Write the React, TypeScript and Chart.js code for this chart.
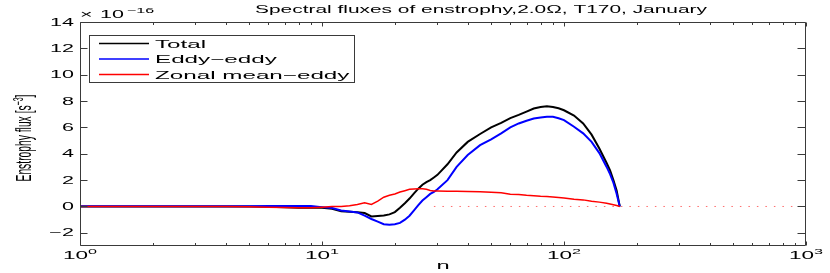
import React, { useEffect, useRef } from "react";
import { Chart, registerables } from "chart.js";

Chart.register(...registerables);

const nValues = [1, 2, 3, 4, 5, 6, 7, 8, 9, 10, 11, 12, 13, 14, 15, 16, 17, 18, 19, 20, 21, 22, 23, 24, 25, 26, 27, 28, 29, 30, 33, 36, 40, 45, 50, 55, 60, 65, 70, 75, 80, 85, 90, 95, 100, 110, 120, 130, 140, 150, 155, 160, 165, 170];
const totalFlux = [0, 0, 0, 0, 0, -0.02, -0.05, -0.1, -0.1, -0.1, -0.17, -0.36, -0.4, -0.43, -0.5, -0.76, -0.72, -0.68, -0.6, -0.43, -0.1, 0.25, 0.6, 1.0, 1.35, 1.65, 1.85, 2.0, 2.2, 2.4, 3.2, 4.1, 4.9, 5.5, 6.0, 6.35, 6.7, 6.95, 7.2, 7.43, 7.55, 7.6, 7.55, 7.45, 7.3, 6.9, 6.3, 5.45, 4.4, 3.3, 2.74, 2.0, 1.22, 0];
const eddyEddyFlux = [0.02, 0.02, 0.02, 0.02, 0.02, 0.03, 0.03, 0.03, 0.03, -0.05, -0.12, -0.3, -0.38, -0.45, -0.7, -0.95, -1.15, -1.35, -1.38, -1.35, -1.25, -1.0, -0.7, -0.3, 0.1, 0.45, 0.7, 0.95, 1.1, 1.3, 2.0, 3.0, 3.9, 4.65, 5.1, 5.55, 6.0, 6.3, 6.5, 6.67, 6.75, 6.8, 6.8, 6.7, 6.55, 6.05, 5.55, 4.9, 4.05, 3.0, 2.45, 1.8, 0.97, 0];
const zonalMeanEddyFlux = [0, 0, 0, 0, -0.02, -0.05, -0.08, -0.1, -0.1, -0.05, 0, 0, 0.05, 0.15, 0.28, 0.15, 0.4, 0.7, 0.85, 0.95, 1.1, 1.2, 1.3, 1.33, 1.34, 1.35, 1.3, 1.22, 1.18, 1.17, 1.15, 1.15, 1.14, 1.12, 1.08, 1.04, 0.92, 0.9, 0.85, 0.82, 0.78, 0.76, 0.72, 0.68, 0.65, 0.55, 0.5, 0.4, 0.33, 0.25, 0.19, 0.13, 0.07, 0];
const zeroLineN = [29, 1000];
const zeroLineY = [0, 0];

const seriesLabels = ["Total", "Eddy\u2212eddy", "Zonal mean\u2212eddy"];
const seriesColors = ["#000000", "#0000ff", "#ff0000"];
const yTickValues = [-2, 0, 2, 4, 6, 8, 10, 12, 14];
const yTickLabels = ["\u22122", "0", "2", "4", "6", "8", "10", "12", "14"];
const xDecades = [1, 10, 100, 1000];
const xDecadeExponents = ["0", "1", "2", "3"];
const titleText = "Spectral fluxes of enstrophy,2.0\u03a9, T170, January";
const xAxisTitle = "n";
const yAxisTitle = "Enstrophy flux [s";
const yAxisTitleSup = "\u22123";
const yAxisTitleEnd = "]";
const scaleExponent = "\u221216";

const FONT = "'Liberation Sans', Arial, Helvetica, sans-serif";
const SX = 2.15;

function drawStretched(
  ctx: CanvasRenderingContext2D,
  text: string,
  x: number,
  y: number,
  size: number,
  align: "left" | "right" | "center",
  sx: number = SX,
  baseline: CanvasTextBaseline = "alphabetic"
) {
  ctx.save();
  ctx.font = `${size}px ${FONT}`;
  ctx.textBaseline = baseline;
  const w = ctx.measureText(text).width * sx;
  let left = x;
  if (align === "right") left = x - w;
  else if (align === "center") left = x - w / 2;
  ctx.translate(left, y);
  ctx.scale(sx, 1);
  ctx.textAlign = "left";
  ctx.fillText(text, 0, 0);
  ctx.restore();
  return w;
}

function measureStretched(ctx: CanvasRenderingContext2D, text: string, size: number, sx: number = SX) {
  ctx.save();
  ctx.font = `${size}px ${FONT}`;
  const w = ctx.measureText(text).width * sx;
  ctx.restore();
  return w;
}

const decorPlugin = {
  id: "matlabDecor",
  afterDraw(chart: any) {
    const ctx: CanvasRenderingContext2D = chart.ctx;
    const { left, right, top, bottom } = chart.chartArea;
    const xs = chart.scales.x;
    const ys = chart.scales.y;
    ctx.save();
    ctx.strokeStyle = "#3a3a3a";
    ctx.lineWidth = 1;
    const L = Math.round(left) + 0.5;
    const R = Math.round(right) - 0.5;
    const T = Math.round(top) + 0.5;
    const B = Math.round(bottom) - 0.5;
    ctx.beginPath();
    ctx.rect(L, T, R - L, B - T);
    ctx.stroke();

    ctx.beginPath();
    for (const v of yTickValues) {
      const py = Math.round(ys.getPixelForValue(v)) + 0.5;
      ctx.moveTo(L, py);
      ctx.lineTo(L + 7, py);
      ctx.moveTo(R, py);
      ctx.lineTo(R - 8, py);
    }
    for (let d = 0; d < xDecades.length; d++) {
      const base = xDecades[d];
      const px = Math.round(xs.getPixelForValue(base)) + 0.5;
      ctx.moveTo(px, B);
      ctx.lineTo(px, B - 4);
      ctx.moveTo(px, T);
      ctx.lineTo(px, T + 4);
      if (d < xDecades.length - 1) {
        for (let m = 2; m <= 9; m++) {
          const mx = Math.round(xs.getPixelForValue(base * m)) + 0.5;
          ctx.moveTo(mx, B);
          ctx.lineTo(mx, B - 2.5);
          ctx.moveTo(mx, T);
          ctx.lineTo(mx, T + 2.5);
        }
      }
    }
    ctx.stroke();

    ctx.fillStyle = "#000";
    for (let i = 0; i < yTickValues.length; i++) {
      const py = ys.getPixelForValue(yTickValues[i]);
      drawStretched(ctx, yTickLabels[i], left - 6, py + 3.6, 10, "right");
    }
    for (let d = 0; d < xDecades.length; d++) {
      const px = xs.getPixelForValue(xDecades[d]);
      const wBase = measureStretched(ctx, "10", 10.5);
      const wSup = measureStretched(ctx, xDecadeExponents[d], 7.5);
      const start = px - (wBase + wSup) / 2;
      drawStretched(ctx, "10", start, 259, 10.5, "left");
      drawStretched(ctx, xDecadeExponents[d], start + wBase, 254, 7.5, "left");
    }
    drawStretched(ctx, "\u00d7", left, 18, 10, "left");
    const w10 = drawStretched(ctx, "10", left + 20, 18, 10, "left");
    drawStretched(ctx, scaleExponent, left + 20 + w10 + 3, 13, 7.5, "left");

    ctx.save();
    ctx.font = `11px ${FONT}`;
    const tw = ctx.measureText(titleText).width;
    ctx.restore();
    drawStretched(ctx, titleText, 481, 12.5, 11, "center", 452 / tw);

    drawStretched(ctx, xAxisTitle, (left + right) / 2, 269, 11, "center");

    ctx.save();
    ctx.translate(31, 138);
    ctx.rotate(-Math.PI / 2);
    ctx.scale(1, 2.1);
    ctx.font = `10.3px ${FONT}`;
    const wMain = ctx.measureText(yAxisTitle).width;
    ctx.font = `7px ${FONT}`;
    const wSupY = ctx.measureText(yAxisTitleSup).width;
    ctx.font = `10.3px ${FONT}`;
    const wEnd = ctx.measureText(yAxisTitleEnd).width;
    const total = wMain + wSupY + wEnd;
    let cx = -total / 2;
    ctx.textBaseline = "alphabetic";
    ctx.fillText(yAxisTitle, cx, 0);
    cx += wMain;
    ctx.font = `7px ${FONT}`;
    ctx.fillText(yAxisTitleSup, cx, -4);
    cx += wSupY;
    ctx.font = `10.3px ${FONT}`;
    ctx.fillText(yAxisTitleEnd, cx, 0);
    ctx.restore();

    ctx.fillStyle = "#fff";
    ctx.fillRect(89.5, 35.5, 265, 47);
    ctx.strokeStyle = "#3a3a3a";
    ctx.lineWidth = 1;
    ctx.strokeRect(89.5, 35.5, 265, 47);
    const rowsY = [43.5, 59, 74.5];
    for (let i = 0; i < seriesLabels.length; i++) {
      ctx.strokeStyle = seriesColors[i];
      ctx.lineWidth = 1.3;
      ctx.beginPath();
      ctx.moveTo(99, rowsY[i]);
      ctx.lineTo(149, rowsY[i]);
      ctx.stroke();
      ctx.fillStyle = "#000";
      drawStretched(ctx, seriesLabels[i], 155, rowsY[i] + 4, 11, "left", 2.2);
    }
    ctx.restore();
  },
};

export default function App() {
  const canvasRef = useRef<HTMLCanvasElement | null>(null);

  useEffect(() => {
    document.body.style.margin = "0";
    const canvas = canvasRef.current;
    if (!canvas) return;
    const mk = (ys: number[]) => nValues.map((n, i) => ({ x: n, y: ys[i] }));
    const chart = new Chart(canvas, {
      type: "scatter",
      data: {
        datasets: [
          {
            label: "zero",
            data: zeroLineN.map((n, i) => ({ x: n, y: zeroLineY[i] })),
            showLine: true,
            borderColor: "rgba(255,60,60,0.75)",
            borderWidth: 1,
            borderDash: [1.5, 7],
            pointRadius: 0,
            order: 3,
          },
          {
            label: seriesLabels[0],
            data: mk(totalFlux),
            showLine: true,
            borderColor: seriesColors[0],
            borderWidth: 2,
            pointRadius: 0,
            order: 2,
          },
          {
            label: seriesLabels[1],
            data: mk(eddyEddyFlux),
            showLine: true,
            borderColor: seriesColors[1],
            borderWidth: 2,
            pointRadius: 0,
            order: 1,
          },
          {
            label: seriesLabels[2],
            data: mk(zonalMeanEddyFlux),
            showLine: true,
            borderColor: seriesColors[2],
            borderWidth: 1.5,
            pointRadius: 0,
            order: 0,
          },
        ],
      },
      options: {
        responsive: false,
        animation: false,
        devicePixelRatio: 1,
        layout: { padding: { left: 80, right: 24, top: 22, bottom: 27 } },
        plugins: { legend: { display: false }, tooltip: { enabled: false }, title: { display: false } },
        scales: {
          x: { type: "logarithmic", min: 1, max: 1000, display: false },
          y: { type: "linear", min: -3, max: 14, display: false },
        },
        elements: { line: { tension: 0 } },
      },
      plugins: [decorPlugin],
    });
    return () => chart.destroy();
  }, []);

  return (
    <div style={{ width: 830, height: 273, background: "#fff" }}>
      <canvas ref={canvasRef} width={830} height={273} style={{ display: "block" }} />
    </div>
  );
}
